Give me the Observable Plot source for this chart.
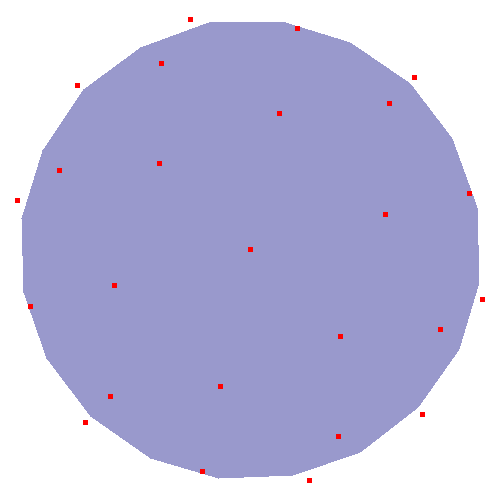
<!DOCTYPE html>
<html>
<head>
<meta charset="utf-8">
<script src="https://cdn.jsdelivr.net/npm/d3@7"></script>
<script src="https://cdn.jsdelivr.net/npm/@observablehq/plot@0.6"></script>
<style>
  html, body { margin: 0; padding: 0; background: #fff; }
</style>
</head>
<body>
<div id="chart"></div>
<script>
// Polygon outline vertices
const polyX = [21, 42, 83, 140, 208, 282, 350, 410, 452, 477, 479, 459, 418, 360, 293, 218, 150, 90, 46, 23];
const polyY = [218, 150, 89, 47, 22, 21, 42, 83, 138, 207, 282, 349, 407, 452, 475, 478, 458, 416, 358, 292];

// Scattered points
const ptX = [190, 297, 161, 77, 414, 389, 279, 159, 59, 17, 469, 385, 250, 114, 30, 482, 440, 340, 220, 110, 422, 85, 338, 202, 309];
const ptY = [19, 28, 63, 85, 77, 103, 113, 163, 170, 200, 193, 214, 249, 285, 306, 299, 329, 336, 386, 396, 414, 422, 436, 471, 480];

const poly = polyX.map((x, i) => ({x, y: polyY[i]}));
const pts = ptX.map((x, i) => ({x, y: ptY[i]}));

const chart = Plot.plot({
  width: 500,
  height: 500,
  margin: 0,
  x: {domain: [0, 500], range: [0, 500], axis: null},
  y: {domain: [0, 500], range: [0, 500], axis: null},
  marks: [
    Plot.hull(poly, {x: "x", y: "y", fill: "#9999cc", stroke: "none", shapeRendering: "crispEdges"}),
    Plot.dot(pts, {x: "x", y: "y", symbol: "square", r: 5 / Math.sqrt(Math.PI), fill: "red", stroke: "none", shapeRendering: "crispEdges"})
  ]
});
document.getElementById("chart").appendChild(chart);
</script>
</body>
</html>
